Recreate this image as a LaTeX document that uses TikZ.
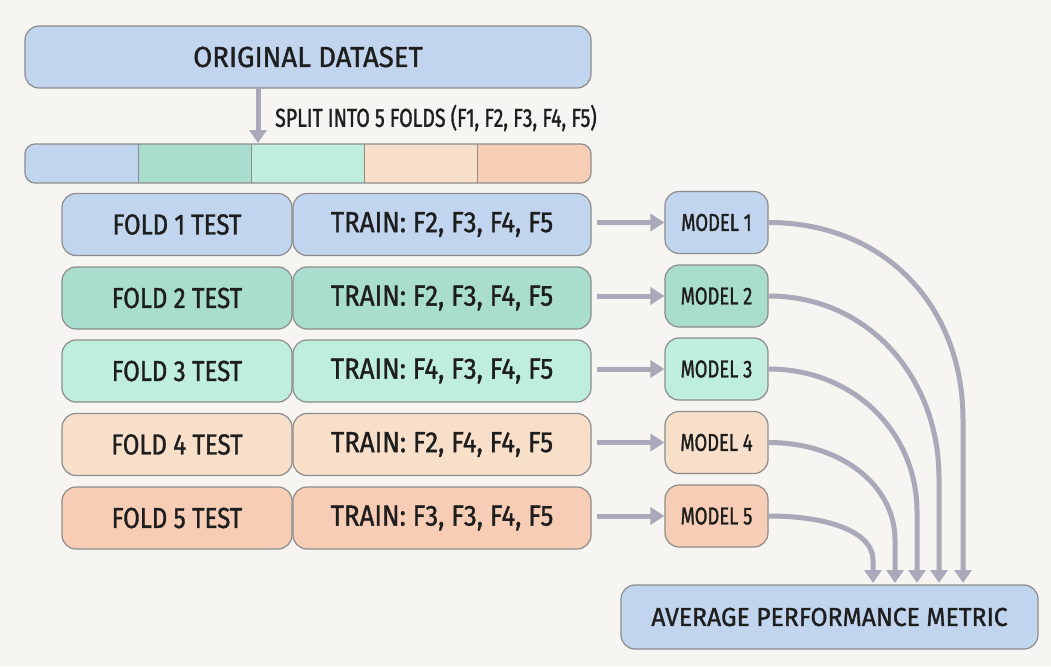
\documentclass[tikz,border=0pt]{standalone}
\usepackage{fontspec}
\setmainfont{Fira Sans}
\usetikzlibrary{arrows.meta}
\definecolor{bgc}{HTML}{F6F5F1}
\definecolor{cblue}{HTML}{C2D5EF}
\definecolor{cteal}{HTML}{A9DECE}
\definecolor{cmint}{HTML}{BFEEDD}
\definecolor{cpeach}{HTML}{F7DFCA}
\definecolor{csalmon}{HTML}{F7CDB5}
\definecolor{edgec}{HTML}{8C8C8C}
\definecolor{flowc}{HTML}{A9A9B9}
\definecolor{inkc}{HTML}{1E1E1E}
% condensed, slightly heavier face: size and horizontal stretch
\newcommand\condfont[2]{\fontsize{#1}{#1}\selectfont\addfontfeature{FakeStretch=#2,FakeBold=1.2}}
\tikzset{
  box/.style={draw=edgec, line width=1.2pt, rounded corners=14pt, text=inkc,
    inner sep=0pt, align=center},
  testbox/.style={box, minimum width=230pt, minimum height=62pt, font=\condfont{29}{0.83}},
  trainbox/.style={box, minimum width=298pt, minimum height=62pt, font=\condfont{29}{0.89}},
  modelbox/.style={box, minimum width=103pt, minimum height=62pt, font=\condfont{24.5}{0.75}},
  seg/.style={minimum width=113.2pt, minimum height=39pt, inner sep=0pt, anchor=north west},
  flow/.style={draw=flowc, line width=5pt, -{Triangle[length=14pt,width=17pt]}},
  flowdown/.style={draw=flowc, line width=5pt, -{Triangle[length=13pt,width=17pt]}},
}
\begin{document}
\begin{tikzpicture}[x=1pt,y=-1pt]
  \fill[bgc] (0,0) rectangle (1051,666);
  \useasboundingbox (0,0) rectangle (1051,666);

  % source data
  \node[box, fill=cblue, minimum width=566pt, minimum height=62pt,
        font=\condfont{29}{0.95}] (orig) at (308,57) {ORIGINAL DATASET};

  % split bar with five folds
  \begin{scope}
    \clip[rounded corners=10pt] (25,144) rectangle (591,183);
    \node[seg, fill=cblue]   (s1) at (25,144) {};
    \node[seg, fill=cteal]   (s2) at (138.2,144) {};
    \node[seg, fill=cmint]   (s3) at (251.4,144) {};
    \node[seg, fill=cpeach]  (s4) at (364.6,144) {};
    \node[seg, fill=csalmon] (s5) at (477.8,144) {};
  \end{scope}
  \draw[edgec, line width=1.2pt, rounded corners=10pt] (25,144) rectangle (591,183);
  \foreach \i in {2,...,5} \draw[edgec, line width=1.2pt] (s\i.north west) -- (s\i.south west);

  \coordinate (splittop) at (258,88);
  \coordinate (splitend) at (258,143);
  \draw[flowdown] (splittop) -- (splitend);
  \node[anchor=west, text=inkc, font=\condfont{26}{0.75}, inner sep=0pt]
    (splitlbl) at (275,118) {SPLIT INTO 5 FOLDS (F1, F2, F3, F4, F5)};

  % five rounds of training
  \foreach \i/\y/\c/\t in {1/224.5/cblue/{F2, F3, F4, F5},
                           2/298/cteal/{F2, F3, F4, F5},
                           3/371/cmint/{F4, F3, F4, F5},
                           4/444.5/cpeach/{F2, F4, F4, F5},
                           5/518/csalmon/{F3, F3, F4, F5}} {
    \node[testbox, fill=\c] (test\i) at (177,\y) {FOLD \i\ TEST};
    \node[trainbox, fill=\c] (train\i) at (442,\y) {TRAIN: \t};
    \node[modelbox, fill=\c] (model\i) at (716.5,\y-2) {MODEL \i};
    \draw[flow] ([xshift=5pt]train\i.east |- model\i.west) -- (model\i.west);
  }

  % combined result
  \node[box, fill=cblue, minimum width=417pt, minimum height=64pt,
        font=\condfont{26}{0.95}] (avg) at (829.5,617) {AVERAGE PERFORMANCE METRIC};

  % model outputs merge into the average
  \coordinate (in1) at (963,583);
  \coordinate (in2) at (939,583);
  \coordinate (in3) at (917,583);
  \coordinate (in4) at (895,583);
  \coordinate (in5) at (873,583);
  \draw[flowdown] (model1.east) .. controls +(115,0) and +(0,-115) .. (963,420) -- (in1);
  \draw[flowdown] (model2.east) .. controls +(100,0) and +(0,-100) .. (939,478) -- (in2);
  \draw[flowdown] (model3.east) .. controls +(85,0) and +(0,-80) .. (917,512) -- (in3);
  \draw[flowdown] (model4.east) .. controls +(72,0) and +(0,-55) .. (895,540) -- (in4);
  \draw[flowdown] (model5.east) .. controls +(60,0) and +(0,-28) .. (873,560) -- (in5);
\end{tikzpicture}
\end{document}
